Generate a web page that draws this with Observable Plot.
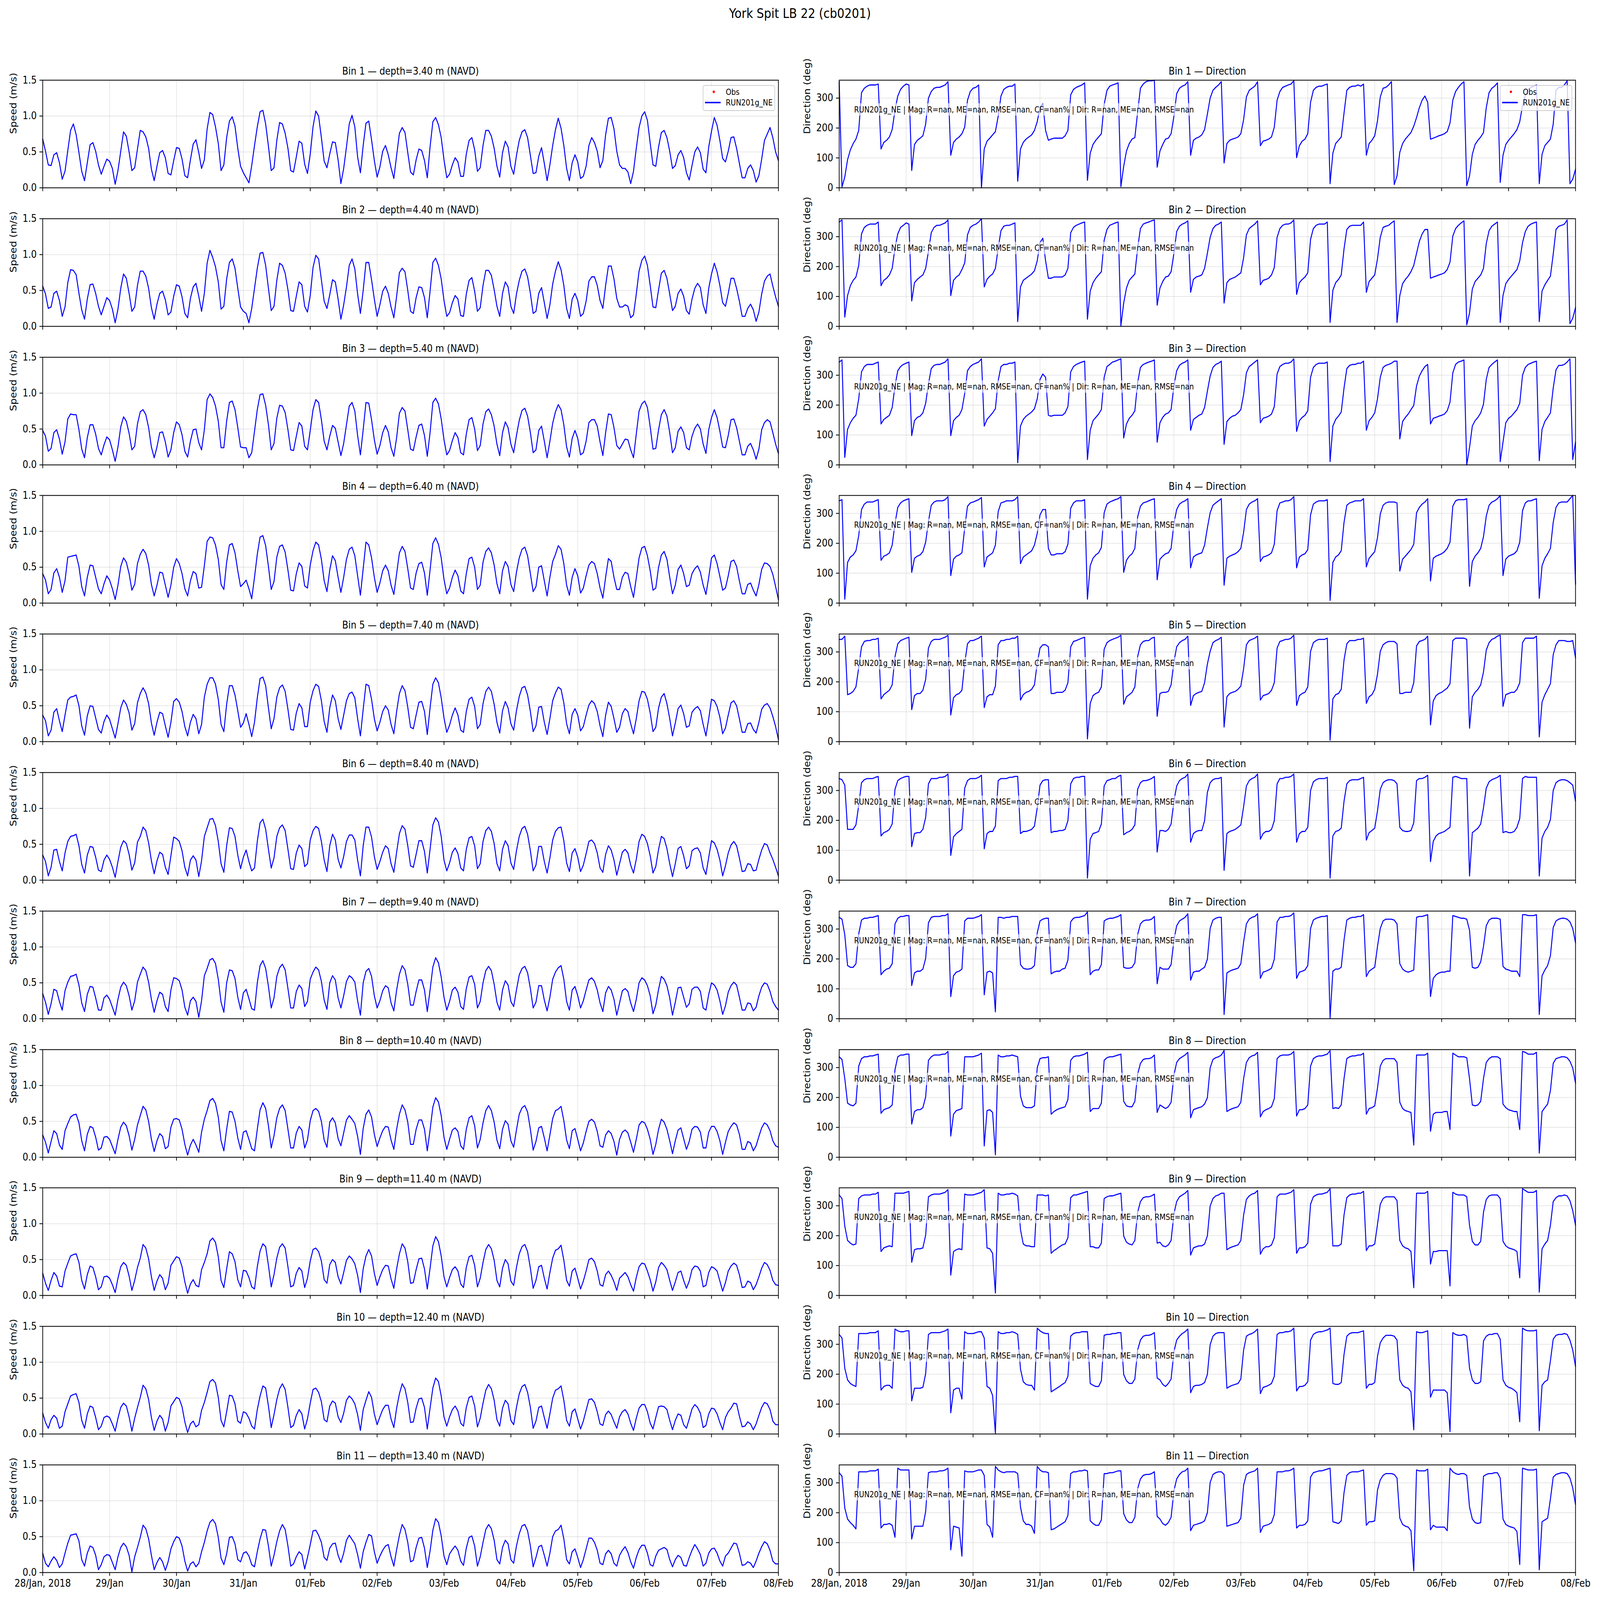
<!DOCTYPE html>
<html>
<head>
<meta charset="utf-8">
<script src="https://cdn.jsdelivr.net/npm/d3@7"></script>
<script src="https://cdn.jsdelivr.net/npm/@observablehq/plot@0.6"></script>
<style>
  html, body { margin: 0; padding: 0; background: #fff; overflow: hidden; }
  #fig { position: relative; width: 5000px; height: 4400px; background: #fff; font-family: "DejaVu Sans", sans-serif; color: #000; transform-origin: 0 0; }
  #title { position: absolute; left: 0; top: 19px; width: 5000px; text-align: center; font-size: 36px; line-height: 36px; }
  .note { position: absolute; font-size: 22.2px; line-height: 34px; height: 34px; padding: 0 6px; background: rgba(255,255,255,0.6); white-space: nowrap; }
  .legend { position: absolute; width: 226px; height: 71px; box-sizing: border-box; border: 2px solid #cccccc; border-radius: 6px; background: rgba(255,255,255,0.8); font-size: 22.2px; }
  .legend .dot { position: absolute; left: 29px; top: 13px; width: 7px; height: 7px; border-radius: 50%; background: #ff0000; }
  .legend .ln { position: absolute; left: 5px; top: 44px; width: 49px; height: 3.5px; background: #0000ff; }
  .legend .t1 { position: absolute; left: 70px; top: 2px; line-height: 30px; }
  .legend .t2 { position: absolute; left: 70px; top: 31px; line-height: 30px; }
</style>
</head>
<body>
<div id="fig"><div id="title">York Spit LB 22 (cb0201)</div></div>
<script>
// ---------- data (hourly values from 28 Jan 2018 00:00 to 08 Feb 2018 00:00) ----------
const xTickHours = [0, 24, 48, 72, 96, 120, 144, 168, 192, 216, 240, 264];
const xTickLabels = ["28/Jan, 2018", "29/Jan", "30/Jan", "31/Jan", "01/Feb", "02/Feb", "03/Feb", "04/Feb", "05/Feb", "06/Feb", "07/Feb", "08/Feb"];
const speedTicks = [0, 0.5, 1.0, 1.5];
const dirTicks = [0, 100, 200, 300];
const bins = [1, 2, 3, 4, 5, 6, 7, 8, 9, 10, 11];
const depths = [3.4, 4.4, 5.4, 6.4, 7.4, 8.4, 9.4, 10.4, 11.4, 12.4, 13.4];
const modelName = "RUN201g_NE";
const obsName = "Obs";
const statsText = "RUN201g_NE | Mag: R=nan, ME=nan, RMSE=nan, CF=nan% | Dir: R=nan, ME=nan, RMSE=nan";

// speed (m/s)
const spd1 = [.68,.51,.32,.31,.46,.49,.35,.12,.23,.52,.80,.89,.74,.49,.23,.10,.35,.60,.63,.51,.32,.19,.30,.40,.37,.27,.05,.24,.51,.78,.72,.50,.24,.28,.54,.80,.78,.71,.55,.26,.10,.30,.49,.52,.42,.20,.18,.38,.56,.55,.40,.17,.14,.39,.61,.67,.49,.27,.39,.82,1.05,1.02,.85,.62,.24,.32,.70,.93,.99,.86,.55,.30,.21,.14,.07,.31,.59,.85,1.06,1.08,.89,.58,.24,.28,.66,.91,.89,.76,.55,.24,.22,.43,.65,.62,.33,.20,.47,.85,1.07,1.00,.70,.37,.28,.47,.64,.63,.39,.06,.27,.57,.89,1.01,.85,.43,.21,.59,.90,.93,.67,.38,.15,.29,.51,.59,.46,.28,.13,.45,.76,.84,.77,.49,.22,.18,
.39,.54,.52,.38,.14,.57,.92,.98,.88,.70,.39,.14,.19,.32,.42,.36,.16,.16,.47,.66,.70,.53,.23,.28,.59,.80,.80,.72,.55,.30,.15,.49,.65,.57,.30,.19,.45,.66,.78,.81,.70,.45,.20,.21,.44,.56,.34,.10,.32,.59,.81,.97,.83,.59,.27,.10,.35,.46,.36,.13,.16,.30,.59,.70,.63,.51,.28,.38,.74,.97,.98,.82,.51,.32,.27,.27,.22,.06,.23,.55,.84,1.00,1.06,.94,.62,.32,.30,.57,.77,.80,.70,.51,.27,.31,.46,.52,.42,.21,.11,.31,.50,.57,.49,.26,.21,.57,.79,.98,.87,.66,.41,.36,.51,.70,.71,.55,.34,.14,.14,.27,.32,.24,.08,.17,.40,.66,.75,.84,.70,.50,.38];
const spd2 = [.56,.45,.25,.27,.46,.49,.36,.14,.27,.61,.79,.78,.72,.46,.23,.10,.38,.58,.59,.46,.28,.16,.28,.40,.36,.24,.05,.24,.53,.73,.67,.46,.21,.27,.57,.77,.77,.70,.53,.26,.10,.31,.46,.49,.37,.16,.20,.42,.58,.56,.41,.18,.12,.39,.55,.60,.42,.21,.46,.88,1.06,.96,.83,.62,.24,.28,.66,.89,.94,.81,.53,.27,.21,.18,.05,.25,.53,.81,1.02,1.03,.85,.53,.22,.28,.64,.88,.85,.74,.51,.22,.21,.42,.62,.58,.28,.20,.43,.82,.99,.94,.65,.35,.25,.44,.65,.62,.38,.10,.30,.55,.85,.94,.80,.45,.18,.50,.89,.89,.65,.38,.14,.30,.49,.56,.46,.27,.12,.42,.75,.81,.76,.50,.21,.18,
.40,.55,.54,.40,.12,.49,.89,.95,.85,.66,.36,.14,.19,.33,.43,.38,.15,.14,.45,.64,.68,.49,.21,.26,.57,.78,.78,.71,.51,.28,.14,.46,.62,.55,.28,.18,.45,.64,.77,.80,.69,.46,.18,.21,.46,.54,.33,.11,.30,.59,.77,.90,.79,.57,.25,.11,.38,.46,.36,.14,.18,.35,.63,.69,.69,.57,.36,.25,.57,.84,.84,.66,.39,.27,.27,.30,.28,.12,.16,.45,.77,.92,.98,.85,.57,.27,.26,.51,.74,.78,.67,.45,.22,.28,.46,.52,.42,.22,.17,.38,.53,.60,.54,.30,.18,.53,.73,.88,.76,.57,.33,.28,.46,.67,.67,.53,.35,.14,.14,.25,.31,.23,.07,.20,.45,.63,.70,.73,.56,.41,.28];
const spd3 = [.48,.40,.19,.23,.45,.49,.36,.15,.32,.64,.71,.70,.70,.49,.22,.10,.38,.56,.56,.43,.23,.14,.28,.39,.35,.21,.05,.25,.53,.67,.61,.44,.21,.26,.57,.74,.77,.70,.52,.25,.10,.25,.45,.46,.32,.11,.21,.45,.60,.56,.42,.19,.11,.33,.49,.50,.31,.21,.49,.91,.99,.94,.82,.61,.24,.24,.61,.87,.89,.77,.52,.25,.24,.24,.10,.17,.47,.77,.98,.99,.83,.56,.21,.30,.65,.83,.82,.73,.49,.21,.20,.40,.59,.54,.26,.21,.48,.77,.91,.87,.63,.33,.21,.40,.55,.51,.32,.13,.30,.56,.82,.87,.75,.41,.14,.49,.87,.86,.63,.35,.15,.27,.45,.55,.46,.24,.12,.38,.72,.80,.75,.49,.22,.20,
.39,.55,.57,.41,.12,.45,.87,.93,.85,.64,.35,.14,.20,.34,.45,.38,.17,.14,.43,.63,.66,.50,.20,.27,.57,.74,.78,.70,.54,.29,.13,.45,.60,.52,.29,.17,.41,.62,.76,.79,.68,.45,.17,.21,.48,.54,.33,.10,.33,.58,.74,.84,.77,.56,.25,.11,.37,.48,.37,.14,.17,.33,.59,.63,.63,.54,.32,.13,.45,.71,.70,.52,.27,.22,.29,.36,.35,.21,.10,.43,.75,.85,.89,.80,.53,.22,.23,.49,.70,.77,.68,.45,.17,.24,.47,.53,.45,.24,.21,.40,.51,.57,.50,.29,.16,.49,.66,.77,.66,.47,.25,.24,.41,.63,.64,.52,.33,.14,.14,.26,.30,.21,.08,.22,.49,.59,.63,.60,.45,.29,.16];
const spd4 = [.41,.32,.13,.19,.42,.48,.36,.15,.31,.64,.65,.66,.67,.51,.23,.10,.36,.53,.52,.36,.20,.13,.27,.38,.32,.20,.05,.25,.51,.63,.57,.41,.18,.26,.55,.68,.75,.69,.53,.26,.10,.25,.43,.42,.25,.08,.25,.50,.62,.55,.41,.20,.10,.31,.44,.41,.21,.22,.52,.86,.92,.91,.81,.61,.26,.19,.57,.81,.83,.70,.45,.23,.27,.32,.20,.06,.36,.68,.92,.94,.80,.51,.19,.30,.64,.79,.81,.71,.46,.18,.17,.41,.56,.51,.24,.21,.53,.73,.85,.81,.61,.31,.16,.46,.66,.59,.36,.15,.36,.61,.75,.78,.66,.38,.11,.48,.85,.81,.63,.36,.15,.28,.45,.53,.45,.25,.12,.41,.70,.79,.72,.48,.21,.19,
.42,.55,.57,.42,.11,.46,.83,.91,.82,.63,.33,.13,.21,.36,.46,.38,.17,.13,.41,.62,.64,.50,.19,.25,.57,.72,.77,.70,.53,.27,.13,.45,.58,.51,.26,.16,.43,.63,.75,.78,.66,.41,.16,.23,.50,.52,.31,.10,.36,.58,.68,.80,.75,.55,.25,.11,.36,.48,.38,.14,.21,.38,.53,.58,.55,.41,.21,.07,.36,.62,.58,.36,.19,.19,.36,.43,.41,.23,.08,.35,.63,.77,.79,.66,.45,.18,.21,.50,.67,.72,.61,.36,.13,.25,.47,.53,.41,.23,.25,.41,.48,.52,.43,.25,.12,.36,.63,.67,.55,.37,.18,.21,.38,.58,.60,.51,.31,.13,.13,.26,.28,.18,.10,.26,.47,.56,.55,.51,.40,.23,.05];
const spd5 = [.37,.29,.08,.16,.41,.46,.29,.14,.37,.58,.62,.63,.65,.50,.22,.09,.36,.50,.49,.33,.17,.12,.28,.37,.31,.18,.05,.25,.47,.58,.52,.40,.16,.25,.54,.67,.75,.68,.53,.26,.09,.27,.41,.39,.22,.06,.27,.56,.60,.55,.42,.21,.08,.27,.38,.32,.11,.24,.62,.80,.89,.89,.80,.59,.24,.14,.52,.78,.78,.65,.43,.20,.26,.39,.24,.07,.27,.61,.88,.90,.78,.47,.18,.32,.62,.75,.79,.70,.45,.17,.16,.40,.53,.47,.21,.21,.55,.71,.80,.77,.57,.28,.13,.47,.65,.57,.32,.17,.37,.57,.67,.69,.61,.32,.08,.45,.80,.78,.59,.32,.15,.27,.42,.50,.44,.24,.11,.42,.67,.78,.71,.48,.20,.18,
.37,.55,.56,.42,.10,.47,.80,.89,.82,.61,.33,.13,.23,.37,.47,.37,.16,.13,.42,.59,.62,.49,.18,.24,.53,.70,.76,.70,.52,.27,.12,.43,.56,.47,.25,.16,.43,.63,.75,.77,.65,.42,.14,.22,.48,.49,.27,.10,.32,.57,.68,.76,.73,.54,.25,.11,.38,.46,.37,.15,.21,.37,.51,.57,.53,.42,.22,.07,.37,.55,.49,.32,.13,.20,.39,.46,.42,.25,.11,.32,.57,.70,.69,.59,.40,.14,.20,.47,.62,.67,.53,.32,.08,.26,.46,.51,.39,.20,.22,.41,.46,.49,.43,.24,.08,.32,.59,.57,.49,.34,.11,.19,.37,.54,.57,.50,.32,.13,.13,.25,.26,.17,.12,.27,.45,.51,.53,.47,.35,.21,.03];
const spd6 = [.35,.26,.06,.18,.42,.43,.26,.13,.38,.54,.61,.62,.64,.48,.22,.10,.35,.47,.46,.32,.14,.12,.28,.35,.29,.18,.04,.26,.46,.55,.51,.36,.14,.24,.53,.61,.74,.69,.52,.27,.09,.27,.39,.36,.18,.08,.34,.60,.58,.54,.41,.18,.06,.28,.34,.28,.05,.27,.61,.73,.85,.86,.76,.54,.23,.11,.48,.73,.72,.61,.35,.16,.32,.42,.26,.13,.17,.54,.80,.85,.71,.43,.17,.31,.61,.73,.77,.69,.43,.16,.15,.38,.49,.44,.19,.23,.56,.69,.75,.72,.54,.28,.12,.48,.64,.56,.29,.17,.33,.54,.63,.63,.56,.28,.06,.48,.74,.74,.60,.33,.15,.26,.39,.48,.44,.23,.11,.39,.65,.76,.71,.48,.20,.18,
.36,.55,.55,.40,.10,.43,.77,.87,.81,.61,.28,.13,.24,.39,.45,.37,.17,.13,.43,.59,.61,.48,.16,.23,.54,.69,.74,.68,.51,.23,.13,.43,.55,.48,.24,.15,.41,.61,.72,.75,.64,.41,.13,.21,.47,.47,.26,.10,.31,.56,.68,.73,.74,.55,.24,.12,.38,.44,.32,.12,.21,.37,.54,.56,.51,.38,.17,.11,.36,.48,.42,.28,.07,.23,.39,.43,.38,.21,.10,.29,.54,.64,.61,.51,.34,.10,.19,.43,.61,.58,.44,.23,.05,.23,.44,.47,.34,.16,.20,.41,.44,.45,.38,.17,.08,.32,.55,.52,.43,.28,.06,.20,.38,.49,.54,.48,.31,.12,.13,.23,.22,.13,.14,.29,.42,.51,.49,.38,.29,.18,.06];
const spd7 = [.35,.23,.06,.21,.41,.39,.24,.12,.39,.51,.59,.60,.62,.47,.22,.10,.34,.45,.44,.29,.12,.12,.29,.33,.27,.16,.05,.27,.44,.51,.46,.32,.12,.25,.51,.62,.72,.67,.51,.27,.09,.25,.37,.34,.17,.10,.40,.57,.56,.53,.40,.16,.05,.25,.30,.24,.02,.25,.60,.70,.82,.84,.77,.55,.23,.09,.50,.68,.67,.56,.30,.13,.36,.41,.28,.14,.12,.50,.74,.81,.70,.45,.15,.29,.59,.71,.76,.68,.42,.15,.15,.38,.47,.42,.17,.24,.55,.65,.72,.68,.52,.26,.13,.50,.60,.54,.29,.15,.32,.52,.60,.57,.51,.25,.05,.50,.66,.70,.59,.32,.15,.25,.39,.46,.43,.22,.11,.40,.62,.74,.68,.48,.19,.19,
.38,.54,.54,.40,.10,.40,.72,.85,.78,.58,.30,.12,.24,.40,.44,.37,.17,.13,.42,.58,.60,.48,.15,.24,.50,.67,.73,.67,.48,.23,.12,.40,.53,.47,.24,.17,.40,.61,.70,.73,.64,.42,.15,.23,.46,.46,.26,.11,.30,.55,.65,.71,.74,.55,.24,.12,.40,.45,.32,.15,.25,.40,.54,.57,.52,.40,.22,.10,.36,.45,.40,.27,.05,.22,.39,.42,.38,.22,.10,.27,.50,.57,.54,.46,.32,.07,.19,.41,.59,.55,.46,.29,.05,.23,.43,.44,.30,.16,.21,.41,.44,.44,.38,.15,.12,.34,.50,.47,.40,.25,.06,.18,.37,.46,.51,.47,.30,.12,.12,.22,.21,.11,.16,.32,.44,.50,.48,.38,.24,.17,.12];
const spd8 = [.31,.21,.06,.22,.37,.33,.17,.11,.37,.47,.56,.59,.60,.48,.23,.09,.32,.43,.41,.28,.10,.13,.28,.29,.25,.15,.05,.25,.42,.49,.44,.30,.10,.25,.45,.58,.71,.66,.50,.25,.08,.23,.33,.29,.12,.15,.42,.53,.54,.52,.39,.18,.03,.17,.25,.17,.07,.35,.53,.65,.79,.82,.75,.56,.23,.09,.39,.64,.63,.50,.27,.11,.35,.37,.25,.12,.09,.39,.66,.76,.68,.44,.13,.30,.55,.68,.73,.65,.39,.13,.13,.34,.43,.38,.13,.24,.51,.65,.68,.64,.50,.24,.14,.49,.55,.48,.26,.16,.34,.52,.58,.53,.47,.29,.04,.40,.60,.66,.56,.32,.15,.27,.37,.43,.42,.24,.11,.39,.60,.73,.66,.49,.18,.18,
.39,.52,.52,.39,.09,.38,.70,.83,.77,.58,.28,.11,.25,.38,.41,.36,.16,.11,.39,.55,.58,.44,.13,.25,.48,.65,.72,.65,.49,.24,.12,.39,.51,.46,.23,.14,.38,.60,.69,.72,.63,.39,.10,.22,.41,.43,.27,.09,.31,.54,.65,.67,.71,.51,.24,.12,.37,.40,.25,.09,.20,.36,.50,.53,.49,.36,.16,.14,.31,.37,.33,.22,.03,.25,.35,.38,.34,.21,.07,.25,.45,.50,.48,.39,.25,.04,.18,.39,.53,.49,.39,.23,.05,.23,.38,.41,.26,.11,.22,.39,.43,.42,.35,.13,.13,.35,.43,.43,.36,.23,.04,.21,.36,.43,.48,.45,.32,.11,.11,.22,.20,.09,.16,.29,.41,.48,.45,.37,.23,.16,.14];
const spd9 = [.31,.17,.07,.21,.32,.27,.13,.12,.34,.45,.55,.57,.58,.46,.21,.09,.29,.41,.39,.26,.08,.12,.26,.27,.24,.15,.04,.24,.40,.46,.42,.27,.07,.21,.39,.52,.71,.66,.51,.26,.07,.20,.29,.24,.08,.17,.42,.48,.54,.52,.40,.19,.03,.16,.22,.14,.12,.36,.46,.58,.76,.80,.74,.54,.21,.11,.37,.61,.58,.47,.22,.12,.35,.34,.25,.12,.09,.40,.62,.72,.68,.42,.12,.29,.52,.67,.72,.66,.40,.12,.14,.31,.39,.34,.11,.24,.48,.64,.66,.61,.48,.22,.17,.43,.50,.46,.26,.16,.32,.49,.55,.51,.44,.28,.04,.37,.55,.64,.55,.31,.14,.26,.36,.42,.41,.23,.10,.37,.58,.72,.66,.47,.17,.18,
.36,.51,.52,.37,.09,.38,.69,.82,.75,.55,.26,.12,.25,.36,.40,.34,.16,.11,.39,.54,.56,.42,.12,.24,.46,.64,.71,.65,.49,.21,.12,.38,.50,.44,.20,.14,.39,.58,.68,.71,.61,.38,.10,.21,.40,.42,.24,.09,.32,.52,.63,.65,.70,.49,.21,.13,.34,.38,.24,.09,.20,.34,.50,.52,.47,.34,.15,.13,.29,.34,.28,.19,.07,.24,.28,.32,.26,.15,.06,.25,.40,.45,.44,.34,.22,.06,.19,.39,.46,.42,.36,.21,.07,.19,.32,.34,.21,.10,.20,.36,.41,.40,.34,.12,.14,.32,.40,.38,.34,.20,.06,.18,.34,.41,.45,.42,.29,.11,.12,.20,.18,.08,.15,.26,.38,.46,.43,.35,.21,.15,.14];
const spd10 = [.29,.16,.08,.20,.26,.22,.08,.11,.31,.42,.53,.55,.56,.44,.19,.08,.28,.39,.37,.23,.06,.11,.23,.25,.23,.14,.04,.22,.37,.43,.39,.24,.04,.22,.37,.51,.68,.63,.48,.23,.05,.18,.26,.21,.04,.16,.39,.45,.51,.49,.38,.17,.02,.14,.18,.10,.13,.33,.44,.58,.73,.76,.71,.51,.19,.10,.31,.54,.53,.42,.18,.15,.31,.29,.22,.11,.07,.34,.53,.67,.64,.39,.09,.27,.48,.63,.70,.62,.37,.09,.12,.26,.34,.28,.07,.21,.43,.62,.64,.58,.45,.20,.17,.39,.46,.43,.24,.16,.29,.47,.53,.49,.42,.27,.05,.34,.47,.59,.51,.28,.13,.24,.34,.40,.40,.21,.09,.36,.56,.70,.63,.44,.16,.17,
.36,.49,.50,.37,.07,.36,.64,.78,.73,.53,.24,.11,.24,.34,.39,.32,.15,.11,.37,.51,.53,.39,.10,.22,.43,.61,.69,.63,.47,.20,.11,.36,.47,.42,.19,.13,.37,.56,.66,.69,.58,.37,.08,.18,.37,.39,.23,.08,.28,.50,.61,.63,.67,.47,.19,.11,.31,.35,.21,.07,.18,.33,.48,.49,.44,.31,.14,.12,.27,.32,.27,.17,.08,.24,.31,.34,.28,.15,.05,.22,.36,.41,.41,.31,.15,.07,.23,.38,.39,.38,.34,.19,.06,.19,.28,.26,.13,.08,.21,.35,.41,.37,.29,.09,.12,.28,.36,.35,.28,.16,.06,.23,.31,.36,.43,.42,.25,.10,.11,.17,.14,.06,.14,.26,.37,.44,.42,.34,.18,.13,.13];
const spd11 = [.27,.13,.08,.16,.22,.17,.07,.12,.27,.41,.52,.53,.54,.44,.18,.09,.27,.37,.35,.24,.04,.11,.22,.25,.24,.14,.04,.22,.35,.41,.36,.24,.01,.22,.35,.49,.66,.61,.47,.24,.04,.14,.21,.15,.03,.15,.33,.43,.50,.48,.37,.16,.02,.12,.15,.08,.13,.29,.42,.58,.70,.74,.68,.49,.20,.11,.26,.49,.50,.40,.18,.15,.27,.29,.23,.11,.08,.29,.47,.60,.59,.37,.09,.24,.43,.58,.67,.60,.37,.09,.12,.22,.29,.25,.05,.21,.39,.58,.59,.52,.42,.21,.17,.34,.40,.41,.24,.14,.27,.45,.52,.46,.40,.25,.06,.29,.42,.53,.51,.29,.13,.23,.31,.37,.39,.22,.09,.32,.52,.67,.60,.42,.15,.17,
.35,.48,.49,.34,.07,.30,.59,.75,.70,.51,.23,.11,.26,.32,.37,.31,.16,.10,.34,.49,.51,.37,.09,.22,.42,.60,.67,.61,.45,.18,.12,.35,.45,.40,.18,.13,.37,.54,.65,.67,.58,.37,.08,.21,.36,.38,.24,.09,.27,.50,.58,.60,.66,.47,.18,.12,.29,.33,.21,.07,.18,.33,.48,.48,.42,.31,.13,.11,.26,.31,.26,.13,.09,.24,.31,.36,.28,.15,.06,.21,.32,.38,.38,.27,.11,.09,.23,.31,.33,.35,.32,.18,.08,.18,.24,.21,.10,.09,.21,.31,.39,.33,.25,.09,.13,.27,.33,.34,.27,.16,.09,.23,.27,.34,.41,.40,.27,.10,.11,.15,.13,.07,.16,.27,.36,.43,.40,.31,.16,.12,.12];

// direction (deg)
const dir1 = [355,3,36,94,127,148,163,192,318,333,340,344,344,344,347,130,152,159,170,195,260,307,329,340,347,344,58,145,159,166,174,213,300,322,333,336,336,340,344,355,109,152,163,170,181,203,293,322,333,336,344,0,130,156,166,177,188,239,307,329,336,340,340,347,22,130,152,163,170,177,192,221,268,282,192,159,163,166,166,166,166,174,192,311,329,336,340,344,351,25,116,145,159,170,181,279,326,340,344,347,351,4,72,123,148,163,168,253,333,347,355,358,358,360,69,123,145,163,166,181,239,315,333,340,344,355,109,
159,166,170,177,195,246,300,326,336,344,355,83,148,159,163,166,170,181,228,304,326,333,340,355,141,156,159,163,170,203,293,322,336,340,344,347,358,101,141,156,163,181,286,326,336,340,340,344,347,14,116,148,159,170,250,326,336,340,340,344,340,347,109,148,159,174,224,304,333,336,344,355,11,40,119,148,163,174,185,206,235,268,293,307,286,163,166,170,174,177,181,188,217,293,322,336,347,355,7,40,112,145,159,170,185,268,318,333,340,351,18,109,145,159,170,181,195,221,275,311,329,336,340,344,14,112,141,152,163,213,326,336,336,344,358,14,29,62];
const dir2 = [349,356,31,103,136,154,165,204,309,331,338,342,342,342,349,136,154,161,172,194,262,309,331,338,346,342,85,146,157,165,172,194,251,313,331,338,338,342,346,356,103,154,165,172,190,212,306,331,338,342,349,360,132,157,168,175,194,262,320,335,338,338,342,346,16,132,154,161,168,175,186,219,280,295,219,161,161,165,165,165,165,172,194,313,331,338,342,346,349,24,118,146,161,172,183,288,324,338,342,346,349,2,78,128,154,165,175,262,327,342,346,349,353,356,71,128,150,165,168,183,244,317,335,342,346,353,114,
157,165,168,172,194,244,298,327,338,342,349,78,146,157,161,165,172,179,230,306,327,335,342,353,139,154,157,161,172,197,298,327,338,342,342,346,356,107,146,157,165,179,291,327,338,342,342,342,349,13,121,146,157,172,259,324,335,338,338,338,338,349,114,150,161,172,226,298,331,335,338,346,353,13,103,143,157,168,183,204,244,284,309,324,324,161,165,168,172,175,179,190,215,302,327,338,346,353,5,45,125,150,161,172,194,277,320,335,342,349,13,103,143,157,168,179,190,219,280,317,335,342,346,349,16,118,139,154,168,241,324,335,338,342,356,9,27,63];
const dir3 = [344,351,25,119,141,156,166,221,311,329,336,336,336,340,344,137,152,159,166,192,264,315,329,336,340,344,98,148,159,163,174,206,271,322,333,336,336,340,344,355,98,148,159,166,185,239,315,329,336,340,344,355,130,152,163,174,188,282,329,336,336,340,340,344,7,130,152,163,170,177,188,221,286,304,293,166,163,166,166,166,166,174,195,311,329,336,340,344,347,18,116,148,159,170,185,293,329,336,344,347,351,355,90,137,156,166,181,275,326,336,340,344,347,351,76,141,159,170,174,185,264,315,333,340,344,351,116,
152,159,166,170,192,246,297,326,336,340,347,69,145,156,163,166,174,185,235,308,329,336,344,351,141,156,159,163,170,195,304,329,336,340,340,344,355,112,148,159,166,181,293,326,336,340,340,340,344,11,130,152,163,177,257,322,333,336,336,340,340,347,116,148,159,174,221,293,326,333,336,340,347,347,87,145,159,170,185,199,264,297,315,329,336,137,156,159,163,166,170,181,210,308,336,344,347,351,0,58,130,148,159,174,203,286,326,336,344,351,11,76,141,156,163,174,185,206,300,326,336,340,344,347,14,119,145,159,174,257,318,333,333,336,344,355,18,76];
const dir4 = [342,346,13,136,154,161,175,226,313,331,338,338,338,342,346,143,157,161,168,194,266,320,335,342,346,349,103,150,157,161,172,204,273,327,338,342,342,342,346,356,92,147,157,161,168,251,324,335,338,342,346,353,121,154,161,168,194,306,335,338,342,342,342,346,356,132,154,161,168,175,194,233,295,313,313,183,161,161,165,165,165,172,197,317,335,342,342,342,346,13,125,150,161,168,186,302,331,338,342,346,349,356,103,143,157,165,183,288,324,335,338,342,346,349,78,147,157,165,168,183,266,313,331,338,342,349,118,
154,161,165,168,194,251,302,327,335,342,349,60,150,157,161,165,172,183,237,313,331,338,342,349,139,154,157,161,168,197,309,335,338,342,342,346,356,118,154,161,165,179,295,331,338,342,342,342,346,9,136,154,161,175,270,327,335,338,342,342,342,349,121,150,161,172,219,298,327,335,338,338,338,335,107,147,157,168,179,197,302,320,331,338,349,74,150,157,161,165,172,183,204,324,342,346,346,346,349,56,139,157,168,183,222,291,327,338,342,349,360,92,147,157,161,165,175,204,309,335,342,342,346,349,16,125,150,165,183,270,320,335,338,338,338,349,360,63];
const dir5 = [342,342,353,157,161,168,183,248,317,335,338,338,342,342,346,143,157,165,172,190,284,327,338,342,346,349,107,154,161,161,172,208,313,335,342,342,342,346,349,356,89,147,157,161,172,262,327,338,338,342,346,353,114,150,157,157,186,324,338,338,342,342,346,346,353,139,157,165,168,175,190,262,313,324,324,317,161,161,165,165,165,172,197,317,335,338,342,346,349,9,128,154,161,165,183,309,331,338,342,346,349,356,125,150,157,165,183,284,324,335,338,338,346,349,85,161,165,165,168,190,266,317,331,338,342,353,121,
154,161,165,168,197,259,302,331,338,342,349,49,150,161,165,168,175,186,244,324,338,342,346,353,139,154,157,161,172,197,313,335,338,342,342,346,356,121,154,161,165,183,302,331,338,342,342,342,346,5,143,157,161,175,273,327,338,338,338,342,342,346,128,150,157,175,226,302,324,331,335,335,335,327,161,161,165,165,165,197,320,335,338,342,353,56,136,154,161,165,172,179,194,338,346,346,346,346,342,45,150,165,175,190,233,306,331,342,346,353,356,118,157,161,165,165,175,197,331,346,346,346,346,353,16,132,157,175,194,291,324,338,338,338,335,335,338,280];
const dir6 = [340,336,318,170,170,170,185,250,326,336,340,340,340,344,347,148,159,163,170,188,304,333,340,344,347,347,112,156,159,159,170,210,322,340,340,340,344,344,347,355,83,145,156,163,170,308,333,340,340,340,344,351,105,156,163,163,181,333,340,340,340,344,344,347,347,156,163,163,166,170,181,242,318,333,336,336,159,163,163,166,166,170,199,322,340,344,344,347,347,7,137,156,159,163,188,315,333,336,340,340,347,351,152,159,163,170,185,304,326,333,333,336,340,347,94,166,166,163,170,188,264,315,333,340,344,355,127,
156,163,166,166,199,293,326,336,340,340,344,33,156,163,166,170,177,185,246,315,333,340,344,355,137,156,163,163,170,199,322,340,340,344,344,347,355,127,156,163,163,177,300,329,336,340,340,340,344,7,148,163,166,174,264,322,333,336,336,336,340,344,134,159,166,174,232,304,326,333,336,336,333,322,177,166,163,163,166,192,333,340,340,344,351,62,130,148,156,159,163,170,177,344,347,344,340,340,340,14,159,166,174,188,242,308,329,336,340,344,351,159,163,159,159,163,177,206,340,347,344,344,344,344,14,141,163,177,203,300,326,333,336,336,333,326,318,264];
const dir7 = [339,333,281,178,172,172,184,284,330,336,336,339,339,342,345,147,159,166,169,184,317,336,342,342,345,345,111,153,159,159,166,202,321,339,342,342,342,345,345,351,74,144,156,159,166,327,336,336,336,339,342,348,80,156,159,153,23,339,339,336,339,339,342,342,342,181,169,166,166,169,178,287,327,333,336,336,150,156,159,159,166,169,196,324,336,339,339,342,345,357,147,159,163,163,181,327,333,336,336,339,342,348,172,169,169,172,187,281,317,327,330,330,333,342,117,172,166,166,166,181,263,311,327,333,339,351,129,
156,159,159,166,172,199,302,330,336,339,339,14,153,159,163,166,169,184,257,317,333,339,342,351,135,156,159,163,169,199,324,339,339,342,342,345,354,135,156,159,163,178,302,330,336,339,342,342,345,2,159,166,166,172,263,330,336,339,339,342,342,348,141,159,166,172,242,302,327,333,333,333,330,317,184,166,159,156,159,163,339,342,342,345,348,74,135,147,153,156,156,159,159,345,342,339,336,336,333,296,172,169,172,190,242,311,330,336,336,336,333,175,166,163,159,159,159,141,348,348,345,345,345,348,14,144,163,178,211,305,327,333,336,336,333,324,302,254];
const dir8 = [336,327,263,181,175,172,181,305,330,336,336,339,339,342,345,147,159,163,166,175,293,336,342,342,345,345,111,153,159,159,166,202,324,336,342,342,342,345,345,354,71,144,156,159,163,336,336,336,336,339,342,348,38,156,159,150,8,342,336,336,339,339,342,339,336,205,172,166,166,166,172,299,330,333,333,336,144,153,159,163,166,169,193,324,336,339,339,342,345,351,153,163,163,163,181,324,333,336,336,339,342,345,187,172,169,169,187,278,314,327,330,330,333,342,150,175,169,163,169,184,275,317,330,336,342,351,132,
159,163,166,169,178,199,299,327,333,336,342,357,153,159,163,166,169,184,263,317,333,339,342,351,135,153,159,163,169,196,330,339,342,342,342,345,354,138,159,159,163,175,305,330,336,339,339,342,345,357,163,166,163,175,263,330,336,339,339,342,342,348,144,163,166,172,232,305,324,330,330,330,330,317,184,163,156,153,150,41,342,342,342,342,348,87,144,150,150,150,153,153,93,348,342,336,336,336,333,263,175,172,175,187,263,317,330,336,336,336,330,178,166,159,156,153,153,93,354,351,345,345,345,351,14,153,166,178,223,314,330,333,336,336,333,321,299,248];
const dir9 = [336,324,232,184,175,169,172,324,333,336,336,336,339,339,345,147,159,163,166,163,342,342,342,342,345,348,111,153,156,156,159,202,330,336,339,339,339,342,345,354,68,147,153,156,153,339,336,336,336,339,342,345,354,159,156,141,8,342,336,336,339,339,342,339,333,220,172,166,166,163,163,336,336,336,333,336,141,150,156,163,169,172,193,327,336,336,339,342,345,348,163,163,159,159,175,324,330,333,333,336,339,342,199,178,172,169,184,278,314,327,330,330,333,339,175,178,166,163,169,184,272,314,330,336,342,351,135,
159,163,166,166,172,199,299,324,333,336,342,342,153,159,163,166,169,184,269,321,333,339,342,351,138,156,163,163,169,193,330,339,339,339,342,345,354,141,159,159,163,175,305,330,336,339,339,342,345,357,166,166,166,172,269,327,336,339,339,342,342,348,150,166,166,172,238,305,324,330,330,330,330,317,184,166,159,156,147,26,342,342,342,342,348,105,147,147,150,150,150,150,32,345,339,336,336,336,330,235,181,169,169,181,278,321,333,336,336,336,324,181,166,159,156,153,147,59,357,351,345,345,345,351,11,156,172,184,235,314,327,333,333,336,333,317,284,235];
const dir10 = [333,321,220,181,169,163,159,336,336,336,336,339,339,339,345,147,159,163,163,153,351,345,342,342,345,345,111,153,153,153,156,202,333,339,339,339,339,342,345,351,71,147,153,153,117,342,336,336,336,339,342,342,321,159,153,129,2,342,336,336,339,339,342,339,333,217,175,166,163,163,147,354,345,339,336,336,141,147,153,159,166,172,193,327,336,339,339,342,342,342,169,163,159,159,178,330,333,333,336,336,339,339,199,178,169,169,184,281,314,327,330,330,333,339,187,181,166,159,169,184,275,314,327,336,342,351,138,
159,163,163,166,172,199,299,327,336,339,339,339,153,159,163,166,169,184,281,327,333,336,342,351,135,156,159,163,169,193,333,339,339,342,342,345,354,144,159,159,163,175,314,333,339,342,342,345,348,354,169,166,166,172,266,327,336,339,339,339,342,345,153,166,166,172,260,305,321,330,330,330,327,314,181,163,156,153,141,14,342,339,339,342,345,123,147,147,147,147,147,138,8,339,333,330,330,333,327,220,181,169,169,175,311,327,333,333,336,336,317,181,163,156,153,147,138,41,354,348,345,345,345,348,11,163,175,181,245,317,330,333,333,336,333,314,281,226];
const dir11 = [334,322,216,179,167,158,146,337,337,337,337,340,340,340,346,149,161,161,164,158,118,349,343,343,343,343,112,155,155,155,155,204,334,337,337,337,340,340,343,349,76,155,152,149,55,340,337,337,337,340,343,343,325,161,152,118,355,343,337,334,337,337,337,337,331,219,173,161,161,155,131,355,343,337,337,334,143,146,152,158,164,170,191,331,337,337,340,340,343,340,173,164,158,158,176,331,331,334,334,337,340,340,197,176,167,167,185,280,313,325,328,328,331,337,188,179,164,158,167,185,273,313,328,337,340,349,140,
158,161,164,167,173,200,301,328,334,337,337,328,155,158,161,164,167,182,292,328,334,337,340,349,134,155,158,161,167,194,337,337,337,340,340,343,349,149,158,158,161,173,319,334,337,340,340,343,346,349,170,167,164,173,267,325,334,337,337,337,340,343,158,170,170,173,276,310,325,331,331,331,328,316,182,161,155,152,140,6,343,340,340,340,346,143,158,152,152,152,152,140,349,337,331,328,331,331,325,219,179,167,164,167,322,328,331,331,334,334,316,179,161,155,152,149,137,27,349,346,343,343,343,346,9,170,176,182,246,319,328,331,334,334,331,316,283,228];

const speed = [spd1, spd2, spd3, spd4, spd5, spd6, spd7, spd8, spd9, spd10, spd11];
const direction = [dir1, dir2, dir3, dir4, dir5, dir6, dir7, dir8, dir9, dir10, dir11];

// ---------- layout (designed on a 5000 x 4400 canvas, then fitted to the window) ----------
const FRAME_LEFT = [133, 2622];
const FRAME_W = [2299, 2301];
const FRAME_TOP0 = 220, ROW_PITCH = 380.8, FRAME_H = 296;
const ML = 130, MR = 30, MT = 45;
const FS = 27.8;
const fig = document.getElementById("fig");

function fitToWindow() {
  const w = document.documentElement.clientWidth || window.innerWidth || 5000;
  const h = document.documentElement.clientHeight || window.innerHeight || 4400;
  const sx = w / 5000, sy = h / 4400;
  fig.style.transform = `scale(${sx}, ${sy})`;
}

function makePanel(r, c) {
  const isSpeed = c === 0;
  const values = isSpeed ? speed[r] : direction[r];
  const data = values.map((v, i) => ({h: i, v}));
  const last = r === bins.length - 1;
  const mb = last ? 75 : 40;
  const fw = FRAME_W[c];
  const ft = FRAME_TOP0 + r * ROW_PITCH;
  const fl = FRAME_LEFT[c];
  const yt = isSpeed ? speedTicks : dirTicks;
  const title = isSpeed ? `Bin ${bins[r]} — depth=${depths[r].toFixed(2)} m (NAVD)` : `Bin ${bins[r]} — Direction`;
  const ylabel = isSpeed ? "Speed (m/s)" : "Direction (deg)";
  const grid = {stroke: "#b0b0b0", strokeOpacity: 0.3, strokeWidth: 2.2};
  const svg = Plot.plot({
    width: ML + fw + MR,
    height: MT + FRAME_H + mb,
    marginLeft: ML, marginRight: MR, marginTop: MT, marginBottom: mb,
    style: {fontFamily: "'DejaVu Sans', sans-serif", overflow: "visible", background: "none", color: "#000", maxWidth: "none"},
    x: {domain: [0, 264], label: null},
    y: {domain: isSpeed ? [0, 1.5] : [0, 360], label: null},
    marks: [
      Plot.gridX({ticks: xTickHours, ...grid}),
      Plot.gridY({ticks: yt, ...grid}),
      Plot.line(data, {x: "h", y: "v", stroke: "#0000ff", strokeWidth: 3}),
      Plot.frame({stroke: "#000", strokeWidth: 2.2}),
      Plot.axisX({ticks: xTickHours, label: null, tickSize: 9.7, tickPadding: 9, strokeWidth: 2.2, fontSize: FS,
        tickFormat: last ? (d => xTickLabels[Math.round(d / 24)]) : (() => "")}),
      Plot.axisY({ticks: yt, label: null, tickSize: 9.7, tickPadding: 9, strokeWidth: 2.2, fontSize: FS,
        tickFormat: isSpeed ? (d => d.toFixed(1)) : (d => String(d))}),
      Plot.text([title], {text: d => d, frameAnchor: "top", lineAnchor: "middle", dy: -24, fontSize: FS}),
      Plot.text([ylabel], {text: d => d, frameAnchor: "left", lineAnchor: "middle", dx: isSpeed ? -91 : -100, rotate: -90, fontSize: FS})
    ]
  });
  svg.style.position = "absolute";
  svg.style.left = (fl - ML) + "px";
  svg.style.top = (ft - MT) + "px";
  fig.appendChild(svg);

  if (!isSpeed) {
    const note = document.createElement("div");
    note.className = "note";
    note.textContent = statsText;
    note.style.left = (fl + 47 - 6) + "px";
    note.style.top = (ft + 81 - 17) + "px";
    fig.appendChild(note);
  }
  if (r === 0) {
    const lg = document.createElement("div");
    lg.className = "legend";
    lg.style.left = (fl + fw - 10 - 226) + "px";
    lg.style.top = (ft + 14) + "px";
    lg.innerHTML = `<div class="dot"></div><div class="t1"></div><div class="ln"></div><div class="t2"></div>`;
    lg.querySelector(".t1").textContent = obsName;
    lg.querySelector(".t2").textContent = modelName;
    fig.appendChild(lg);
  }
}

for (let r = 0; r < bins.length; r++) {
  makePanel(r, 0);
  makePanel(r, 1);
}
fitToWindow();
</script>
</body>
</html>
